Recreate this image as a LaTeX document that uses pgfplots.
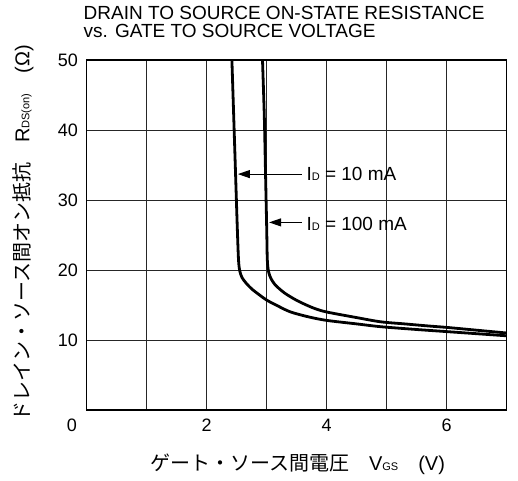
\documentclass[border=0pt]{standalone}
\usepackage{fontspec}
\setmainfont{Liberation Sans}
\newfontfamily\jp{Noto Sans CJK JP}
\usepackage{pgfplots}
\pgfplotsset{compat=1.18}
\usetikzlibrary{arrows.meta}
\pgfplotstableread{
x y
2.42 50
2.45 42
2.48 34
2.51 26
2.53 21.5
2.55 19.9
2.59 18.9
2.66 18.1
2.75 17.3
2.87 16.5
3.0 15.7
3.2 14.8
3.4 14.0
3.7 13.3
4.0 12.8
4.5 12.3
4.9 11.9
5.5 11.5
6.0 11.2
6.5 10.9
7.0 10.6
}\tenmA
\pgfplotstableread{
x y
2.93 50
2.96 42
2.98 34
3.0 26
3.01 21.5
3.03 19.8
3.07 18.8
3.13 18.0
3.2 17.4
3.3 16.7
3.45 15.9
3.61 15.2
3.8 14.5
4.0 14.0
4.5 13.2
4.9 12.6
5.3 12.3
5.7 12.0
6.0 11.8
6.5 11.4
7.0 11.0
}\hundredmA
\begin{document}
\begin{tikzpicture}[x=1pt,y=1pt]
\useasboundingbox (-86.7,-70) rectangle (431.3,410);
\begin{axis}[
  at={(0,0)}, anchor=south west, scale only axis,
  width=420pt, height=350pt,
  xmin=0, xmax=7, ymin=0, ymax=50,
  xtick={0,...,7},
  xticklabels={\makebox[0pt][r]{0\hspace{9.7pt}},,2,,4,,6,},
  ytick={0,10,...,50},
  yticklabels={,10,20,30,40,50},
  major tick length=0pt,
  grid=major,
  grid style={line width=0.7pt, black!85},
  axis line style={line width=1.1pt},
  /pgf/number format/assume math mode=true,
  tick label style={font=\fontsize{18}{18}\selectfont},
  xticklabel style={anchor=north, inner sep=0pt, yshift=-9pt},
  yticklabel style={anchor=east, inner sep=0pt, xshift=-8.5pt},
]
\addplot[black, line width=2.8pt, smooth, tension=0.5] table[x=x,y=y] {\tenmA};
\addplot[black, line width=2.8pt, smooth, tension=0.5] table[x=x,y=y] {\hundredmA};
\draw[line width=1pt, -{Triangle[length=12pt,width=8pt]}] (axis cs:3.58,33.7) -- (axis cs:2.52,33.7);
\draw[line width=1pt, -{Triangle[length=12pt,width=8pt]}] (axis cs:3.58,26.8) -- (axis cs:3.04,26.8);
\node[anchor=base west, inner sep=0pt, font=\fontsize{19}{19}\selectfont] at (axis cs:3.66,32.76) {I{\fontsize{11}{11}\selectfont D} = 10 mA};
\node[anchor=base west, inner sep=0pt, font=\fontsize{19}{19}\selectfont] at (axis cs:3.66,25.7) {I{\fontsize{11}{11}\selectfont D} = 100 mA};
\end{axis}
\node[anchor=north west, inner sep=0pt, align=left, font=\fontsize{19}{18.5}\selectfont] at (-3.2,404) {DRAIN TO SOURCE ON-STATE RESISTANCE\\vs. GATE TO SOURCE VOLTAGE};
\node[rotate=90, anchor=center, inner sep=0pt, font=\fontsize{20}{20}\selectfont] at (-63.7,176.5) {{\jp ドレイン・ソース間オン抵抗　}R{\fontsize{11}{11}\selectfont DS(on)}{\jp 　}(Ω)};
\node[anchor=base, inner sep=0pt, font=\fontsize{20}{20}\selectfont] at (210.8,-60) {{\jp ゲート・ソース間電圧　}V{\fontsize{11}{11}\selectfont GS}{\jp 　}(V)};
\end{tikzpicture}
\end{document}
